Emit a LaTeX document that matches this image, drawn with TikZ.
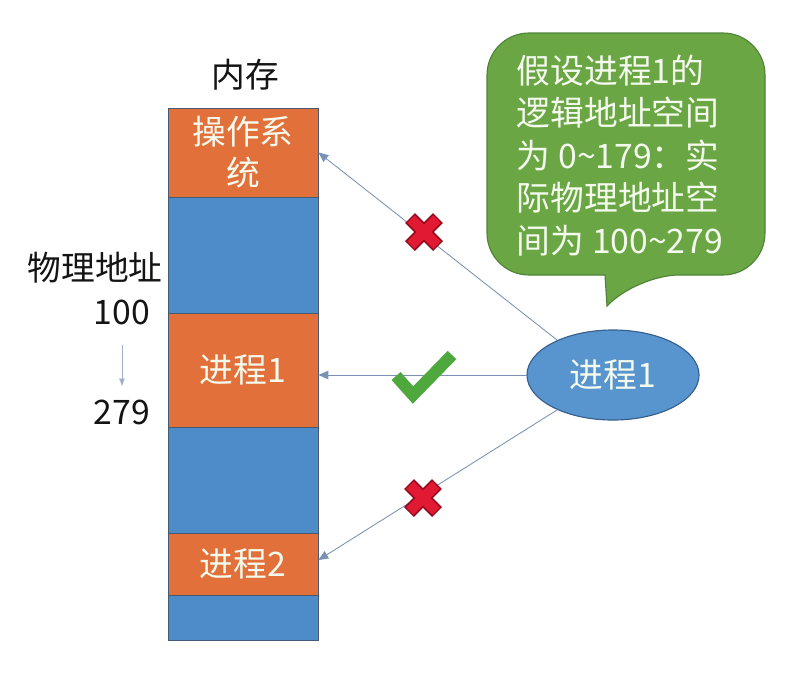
\documentclass[tikz,border=0pt]{standalone}
\usepackage{fontspec}
\setmainfont{Noto Sans CJK SC}
\usetikzlibrary{arrows.meta,positioning,calc,shapes.geometric}
\definecolor{ink}{RGB}{20,20,20}
\definecolor{segline}{RGB}{70,90,115}
\definecolor{orangeseg}{RGB}{226,112,58}
\definecolor{blueseg}{RGB}{78,140,200}
\definecolor{procfill}{RGB}{88,148,206}
\definecolor{procline}{RGB}{55,95,140}
\definecolor{linkcol}{RGB}{120,145,180}
\definecolor{notegreen}{RGB}{106,166,68}
\definecolor{noteline}{RGB}{80,130,55}
\definecolor{paletext}{RGB}{245,250,238}
\definecolor{crossred}{RGB}{225,25,50}
\definecolor{crossdark}{RGB}{150,10,30}
\definecolor{tickgreen}{RGB}{78,168,62}

\begin{document}
\begin{tikzpicture}[
    x=0.025cm,y=-0.025cm,
    >=Latex,
    text=ink,
    every node/.style={font=\fontsize{24}{29}\selectfont},
    seg/.style={
        draw=segline,
        line width=0.6pt,
        minimum width=3.75cm,
        inner sep=0pt,
        align=center,
        text=paletext
    },
    lbl/.style={text=ink},
    arr/.style={-{Triangle[length=7pt,width=6pt]}, line width=0.6pt, draw=linkcol},
    down/.style={->, line width=0.6pt, draw=linkcol!70}
]
\useasboundingbox (0,0) rectangle (796,673);

% Memory column
\node[lbl] (memtitle) at (245,75) {内存};
\node[seg, fill=orangeseg, minimum height=2.225cm] (os) at (243,152.5) {操作系\\统};
\node[seg, fill=blueseg, minimum height=2.9cm] (free1) at (243,255) {};
\node[seg, fill=orangeseg, minimum height=2.85cm] (p1) at (243,370) {进程1};
\node[seg, fill=blueseg, minimum height=2.65cm] (free2) at (243,480) {};
\node[seg, fill=orangeseg, minimum height=1.55cm] (p2) at (243,564) {进程2};
\node[seg, fill=blueseg, minimum height=1.125cm] (free3) at (243,617.5) {};

% Physical addresses
\node[lbl] (phys) at (95,268) {物理地址};
\node[lbl] (n100) at (122,312) {100};
\node[lbl] (n279) at (122,412) {279};
\draw[down, shorten <=0.4cm, shorten >=0.2cm] (n100) -- (n279);

% Process
\node[ellipse, fill=procfill, draw=procline, line width=0.8pt,
      minimum width=4.3cm, minimum height=2.25cm, text=paletext] (proc) at (613,375) {进程1};

% Links from process to memory
\draw[arr] (proc.148) -- (os.east);
\draw[arr] (proc.west) -- (proc.west -| p1.east);
\draw[arr] (proc.212) -- ($(p2.east)+(0,-4)$);

% Wrong and right marks
\foreach \cx/\cy in {424/232,423/498}{
    \begin{scope}[shift={(\cx,\cy)}]
        \draw[crossdark, line width=10pt] (-14,-14) -- (14,14) (-14,14) -- (14,-14);
        \draw[crossred, line width=7.5pt] (-13,-13) -- (13,13) (-13,13) -- (13,-13);
    \end{scope}
}
\draw[tickgreen, line width=8.5pt, miter limit=10] (396,376) -- (413,395) -- (452,355);

% Speech bubble
\draw[fill=notegreen, draw=noteline, line width=0.8pt]
    (605,275) [rounded corners=1.05cm] -- (487,275) -- (487,33) -- (765,33) -- (765,275)
    -- (637,275) [sharp corners] -- (607,306) -- cycle;
\node[anchor=north west, align=left, text=paletext,
      font=\fontsize{24}{30.2}\selectfont] (note) at (512,50)
{假设进程1的\\逻辑地址空间\\为 0\textasciitilde179：实\\际物理地址空\\间为 100\textasciitilde279};

\end{tikzpicture}
\end{document}
